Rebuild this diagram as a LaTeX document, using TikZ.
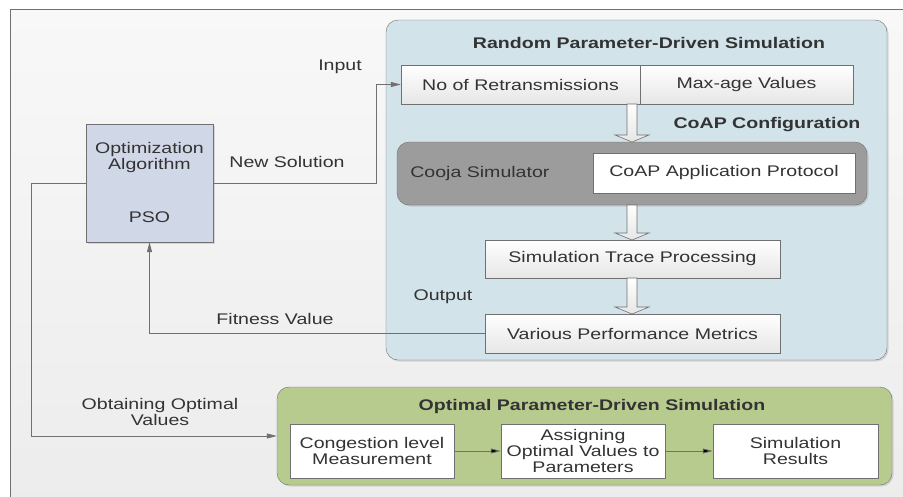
\documentclass[tikz,border=0pt]{standalone}
\usepackage{fontspec}
\usepackage{tikz}
\usetikzlibrary{positioning,calc,arrows.meta,shadows}

\newfontfamily\diafont{Liberation Sans}[FakeStretch=1.27]
\newcommand{\dfont}{\diafont\fontsize{15.4}{16}\selectfont}

\definecolor{txtgray}{HTML}{333333}
\definecolor{linegray}{HTML}{707070}
\definecolor{bgtop}{HTML}{F8F8F8}
\definecolor{bgbot}{HTML}{ECECEC}
\definecolor{psofill}{HTML}{D0D7E7}
\definecolor{bluebg}{HTML}{D2E3EA}
\definecolor{coojafill}{HTML}{9C9C9C}
\definecolor{greenbg}{HTML}{B8CB8E}
\definecolor{boxbot}{HTML}{E6E6E6}

% hollow block arrow between two points (top, tip)
\newcommand{\blockarrow}[2]{%
  \draw[hollow] ($(#1)+(-5,0)$) -- ($(#2)+(-5,-7)$) -- ($(#2)+(-17,-7)$) -- (#2)
    -- ($(#2)+(17,-7)$) -- ($(#2)+(5,-7)$) -- ($(#1)+(5,0)$) -- cycle;}

\begin{document}
\begin{tikzpicture}[x=1pt,y=-1pt,
  every node/.style={font=\dfont, text=txtgray},
  cont/.style={draw=linegray, rounded corners=12pt, inner sep=0pt,
    drop shadow={shadow xshift=1.5pt, shadow yshift=-1.5pt, opacity=0.25}},
  pbox/.style={draw=linegray, top color=white, bottom color=boxbot, inner sep=0pt,
    minimum height=39pt, align=center},
  wbox/.style={draw=linegray, fill=white, inner sep=0pt, align=center,
    drop shadow={shadow xshift=1pt, shadow yshift=-1pt, opacity=0.3}},
  ttl/.style={font=\dfont\bfseries},
  lbl/.style={align=center},
  link/.style={draw=linegray, line width=0.8pt, -{Triangle[length=10pt,width=5pt]}},
  hollow/.style={draw=linegray, line width=0.6pt, top color=white, bottom color=boxbot}]

\useasboundingbox (0,0) rectangle (903,496);
\clip (0,0) rectangle (903,496);
\fill[white] (0,0) rectangle (903,496);
\draw[linegray, top color=bgtop, bottom color=bgbot] (10,9) rectangle (915,510);

% optimisation side
\node[draw=linegray, fill=psofill, minimum width=127pt, minimum height=118pt,
  drop shadow={shadow xshift=1.5pt, shadow yshift=-1.5pt, opacity=0.25}] (pso) at (149.5,183) {};
\node[lbl] (algo) at (149.5,158) {Optimization\\Algorithm};
\node (psoname) at (149.5,217) {PSO};

% random parameter-driven simulation
\node[cont, fill=bluebg, minimum width=501pt, minimum height=340pt] (rand) at (636.5,190) {};
\node[ttl] (randtitle) at (649,43) {Random Parameter-Driven Simulation};
\node[pbox, minimum width=239pt] (retx) at (520.5,84.5) {No of Retransmissions};
\node[pbox, minimum width=213pt] (maxage) at (746.5,84.5) {Max-age Values};
\node[ttl] (coapcfg) at (767,125) {CoAP Configuration};
\node[cont, fill=coojafill, minimum width=470pt, minimum height=63pt] (cooja) at (632,173.5) {};
\node[right=10pt of cooja.west] (coojaname) {Cooja Simulator};
\node[wbox, minimum width=262pt, minimum height=40pt] (coap) at (724,173) {CoAP Application Protocol};
\node[pbox, minimum width=295pt, minimum height=38pt] (trace) at (632.5,259) {Simulation Trace Processing};
\node (output) at (443,297) {Output};
\node[pbox, minimum width=295pt] (metrics) at (632.5,333.5) {Various Performance Metrics};

\coordinate (a1) at (632,104);  \coordinate (a1t) at (632,142);
\coordinate (a2) at (632,205);  \coordinate (a2t) at (632,240);
\coordinate (a3) at (632,278);  \coordinate (a3t) at (632,314);
\blockarrow{a1}{a1t}
\blockarrow{a2}{a2t}
\blockarrow{a3}{a3t}

% optimal parameter-driven simulation
\node[cont, fill=greenbg, minimum width=615pt, minimum height=98pt] (opt) at (584.5,436) {};
\node[ttl] (opttitle) at (592,407) {Optimal Parameter-Driven Simulation};
\node[wbox, minimum width=164pt, minimum height=54pt] (cong) at (372,451) {Congestion level\\Measurement};
\node[wbox, minimum width=164pt, minimum height=54pt] (assign) at (583,451) {Assigning\\Optimal Values to\\Parameters};
\node[wbox, minimum width=165pt, minimum height=54pt] (results) at (795.5,451) {Simulation\\Results};

% connectors
\coordinate (turnin) at (376,183);
\coordinate (turnopt) at (31,183);
\draw[link] (pso.east) -- (turnin) |- (retx.west);
\draw[link] (metrics.west) -| (pso.south);
\draw[link] (pso.west) -- (turnopt) |- (opt.west);
\path[link]
(cong) edge (assign)
(assign) edge (results)
; %end path

\node (input) at (340,67) {Input};
\node (newsol) at (287,162) {New Solution};
\node (fitness) at (275,319) {Fitness Value};
\node[lbl] (obtain) at (160,412) {Obtaining Optimal\\Values};
\end{tikzpicture}
\end{document}
